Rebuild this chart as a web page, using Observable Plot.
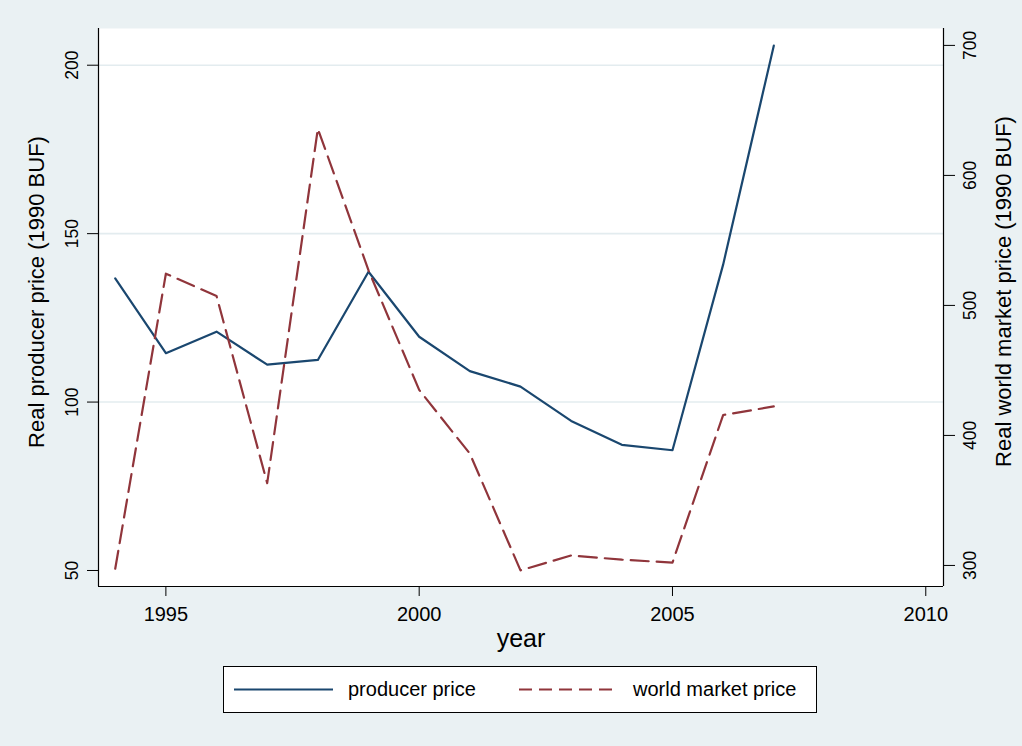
<!DOCTYPE html>
<html>
<head>
<meta charset="utf-8">
<script src="https://cdn.jsdelivr.net/npm/d3@7"></script>
<script src="https://cdn.jsdelivr.net/npm/@observablehq/plot@0.6"></script>
<style>
  html, body { margin: 0; padding: 0; background: #eaf1f3; }
  #wrap { position: relative; width: 1022px; height: 746px; background: #eaf1f3; overflow: hidden;
          font-family: "Liberation Sans", Arial, sans-serif; }
  #legend { position: absolute; left: 223px; top: 666px; width: 594px; height: 47px;
            box-sizing: border-box; border: 1px solid #000; background: #fff; }
  #legend .txt { position: absolute; top: 10px; font-size: 20px; color: #000; line-height: 24px; white-space: nowrap; }
  #legend svg { position: absolute; top: 0; }
</style>
</head>
<body>
<div id="wrap">
  <div id="chart"></div>
  <div id="legend"></div>
</div>
<script>
// ---- data ----
const years = [1994, 1995, 1996, 1997, 1998, 1999, 2000, 2001, 2002, 2003, 2004, 2005, 2006, 2007];
const producerPrice = [136.7, 114.5, 120.9, 111.1, 112.5, 138.7, 119.4, 109.2, 104.6, 94.4, 87.3, 85.7, 140.8, 205.8];
const worldPrice = [297.5, 524.4, 507.2, 363.3, 635.9, 527.0, 435.0, 386.0, 296.2, 307.7, 304.4, 302.2, 415.7, 422.3];

const xTicks = [1995, 2000, 2005, 2010];
const leftTicks = [50, 100, 150, 200];
const gridTicks = [100, 150, 200];
const rightTicks = [300, 400, 500, 600, 700];

const xDomain = [1993.67, 2010.35];
const leftDomain = [45.25, 210.9];
const rightDomain = [283.8, 713];

const seriesNames = ["producer price", "world market price"];
const seriesColors = ["#1a476f", "#90353b"];
const lineDash = "18,8";
const legendDash = "13,7";

// map right-axis values onto the left (primary) scale
const toLeft = w => leftDomain[0] + (w - rightDomain[0]) * (leftDomain[1] - leftDomain[0]) / (rightDomain[1] - rightDomain[0]);

const producerData = years.map((y, i) => ({year: y, value: producerPrice[i]}));
const worldData = years.map((y, i) => ({year: y, value: worldPrice[i]}));

const font = "Liberation Sans, Arial, sans-serif";

const chart = Plot.plot({
  width: 1022,
  height: 660,
  marginLeft: 98,
  marginRight: 79,
  marginTop: 28,
  marginBottom: 74,
  style: {background: "transparent", fontFamily: font, color: "#000", overflow: "visible"},
  x: {domain: xDomain},
  y: {domain: leftDomain},
  marks: [
    Plot.frame({fill: "#ffffff", stroke: "none"}),
    Plot.ruleY(gridTicks, {stroke: "#e3ecef", strokeWidth: 1.6}),
    Plot.line(producerData, {x: "year", y: "value", stroke: seriesColors[0], strokeWidth: 2.2}),
    Plot.line(worldData, {x: "year", y: d => toLeft(d.value), stroke: seriesColors[1], strokeWidth: 2.2, strokeDasharray: lineDash}),
    // axis lines
    Plot.ruleX([xDomain[0]], {stroke: "#000", strokeWidth: 1.2}),
    Plot.ruleX([xDomain[1]], {stroke: "#000", strokeWidth: 1.2}),
    Plot.ruleY([leftDomain[0]], {stroke: "#000", strokeWidth: 1.2}),
    // x axis
    Plot.axisX(xTicks, {tickSize: 10, tickPadding: 10, fontSize: 20, tickFormat: d => String(d), label: null}),
    Plot.text(["year"], {frameAnchor: "bottom", dy: 52, fontSize: 25, lineAnchor: "middle", textAnchor: "middle"}),
    // left y axis
    Plot.axisY(leftTicks, {anchor: "left", tickSize: 11, fill: "none", tickFormat: () => "", label: null}),
    Plot.text(leftTicks, {y: d => d, text: d => String(d), frameAnchor: "left", dx: -26.5, rotate: -90,
      fontSize: 17.5, textAnchor: "middle", lineAnchor: "middle"}),
    Plot.text(["Real producer price (1990 BUF)"], {frameAnchor: "left", dx: -62, dy: -15.5, rotate: -90,
      fontSize: 22, textAnchor: "middle", lineAnchor: "middle"}),
    // right y axis
    Plot.axisY(rightTicks.map(toLeft), {anchor: "right", tickSize: 11, fill: "none", tickFormat: () => "", label: null}),
    Plot.text(rightTicks, {y: d => toLeft(d), text: d => String(d), frameAnchor: "right", dx: 26.7, rotate: -90,
      fontSize: 17.5, textAnchor: "middle", lineAnchor: "middle"}),
    Plot.text(["Real world market price (1990 BUF)"], {frameAnchor: "right", dx: 60, dy: -16, rotate: -90,
      fontSize: 22, textAnchor: "middle", lineAnchor: "middle"})
  ]
});
document.getElementById("chart").appendChild(chart);

// legend (HTML, below the plot area)
const legend = document.getElementById("legend");
const items = [
  {lineLeft: 10, textLeft: 124, color: seriesColors[0], dash: null, name: seriesNames[0]},
  {lineLeft: 295, textLeft: 409, color: seriesColors[1], dash: legendDash, name: seriesNames[1]}
];
for (const it of items) {
  const svg = d3.create("svg").attr("width", 99).attr("height", 45).style("left", it.lineLeft + "px");
  svg.append("line").attr("x1", 0).attr("x2", 99).attr("y1", 22.5).attr("y2", 22.5)
    .attr("stroke", it.color).attr("stroke-width", 2.2)
    .attr("stroke-dasharray", it.dash);
  legend.appendChild(svg.node());
  const t = document.createElement("div");
  t.className = "txt";
  t.style.left = it.textLeft + "px";
  t.textContent = it.name;
  legend.appendChild(t);
}
</script>
</body>
</html>
